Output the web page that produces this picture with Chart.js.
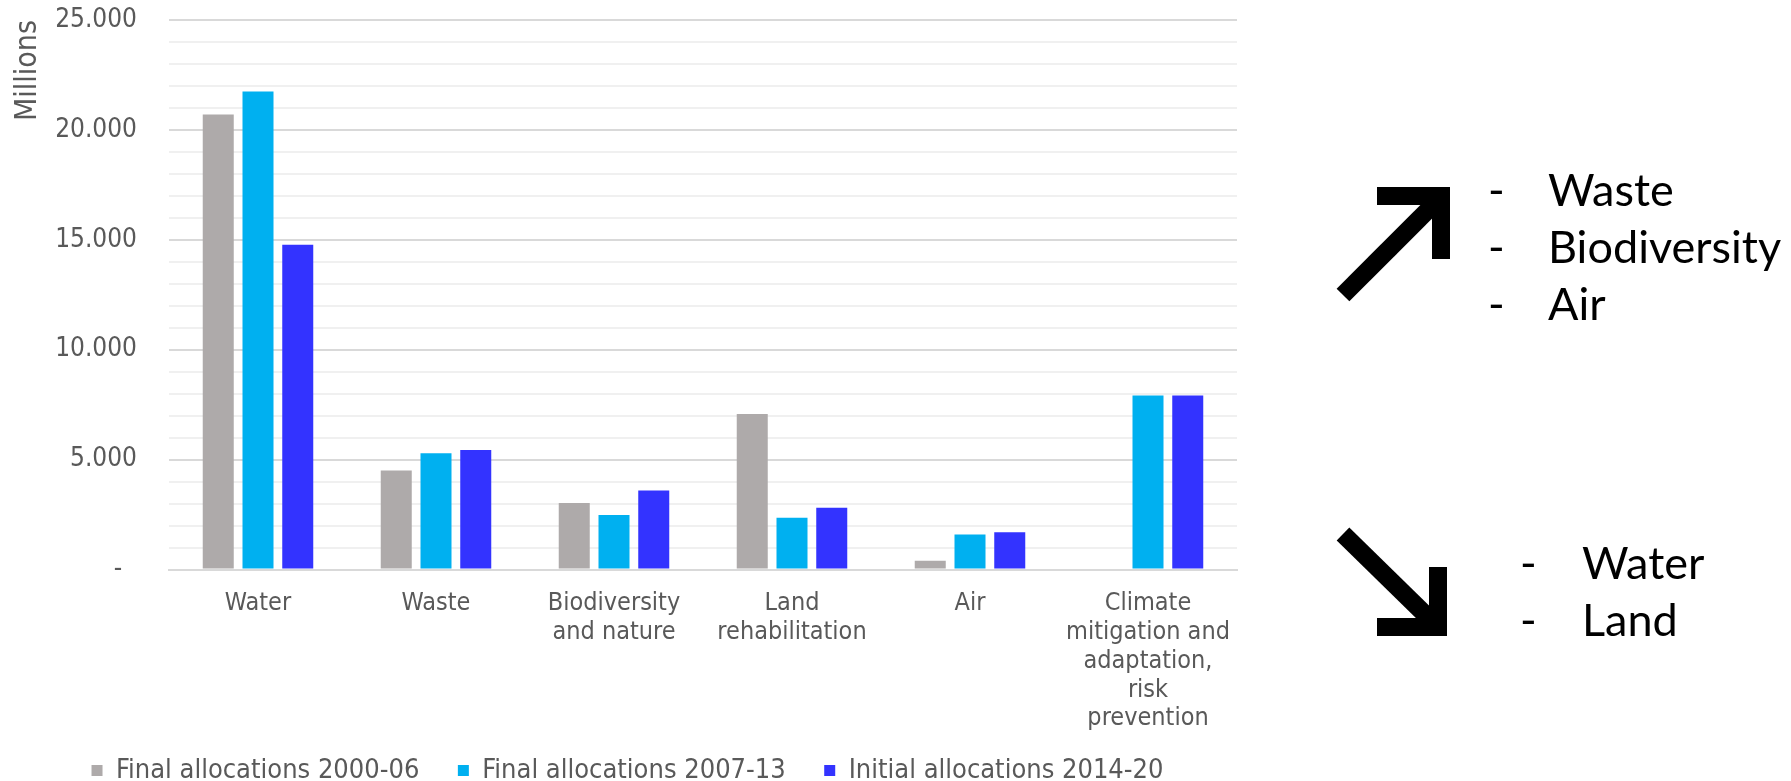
<!DOCTYPE html>
<html>
<head>
<meta charset="utf-8">
<script src="https://cdn.jsdelivr.net/npm/chart.js@4/dist/chart.umd.min.js"></script>
<style>
    html, body { margin: 0; padding: 0; background: #fff; overflow: hidden; }
    #page { position: relative; width: 1791px; height: 781px; overflow: hidden; }
    #chartBox { position: absolute; left: 0; top: 0; width: 1270px; height: 794px; }
    #notes { position: absolute; left: 0; top: 0; width: 1791px; height: 781px; pointer-events: none; }
    .trend { position: absolute; font-family: Lato, "Open Sans", sans-serif; font-size: 45px; line-height: 57px; color: #000; }
    .trend div { position: relative; }
    .trend span.dash { position: absolute; }
</style>
</head>
<body>
<div id="page">
    <div id="chartBox"><canvas id="myChart" width="1270" height="794"></canvas></div>

    <svg id="notes" width="1791" height="781">
        <!-- up arrow -->
        <line x1="1343" y1="295" x2="1440" y2="198" stroke="#000" stroke-width="18"/>
        <rect x="1377" y="187" width="73" height="18" fill="#000"/>
        <rect x="1432" y="187" width="18" height="72" fill="#000"/>
        <!-- down arrow -->
        <line x1="1343" y1="534" x2="1437" y2="626" stroke="#000" stroke-width="18"/>
        <rect x="1377" y="618" width="70" height="18" fill="#000"/>
        <rect x="1429" y="567" width="18" height="69" fill="#000"/>
    </svg>

    <div class="trend" id="upList" style="left:1548px; top:161px;">
        <div><span class="dash" style="left:-60px;">-</span>Waste</div>
        <div><span class="dash" style="left:-60px;">-</span>Biodiversity</div>
        <div><span class="dash" style="left:-60px;">-</span>Air</div>
    </div>
    <div class="trend" id="downList" style="left:1582px; top:534px;">
        <div><span class="dash" style="left:-62px;">-</span>Water</div>
        <div><span class="dash" style="left:-62px;">-</span>Land</div>
    </div>
</div>

<script>
(function () {
    "use strict";

    // categories (multi-line labels)
    const categories = [
        ['Water'],
        ['Waste'],
        ['Biodiversity', 'and nature'],
        ['Land', 'rehabilitation'],
        ['Air'],
        ['Climate', 'mitigation and', 'adaptation,', 'risk', 'prevention']
    ];

    // allocations, EUR millions
    const final2000_06 = [20700, 4500, 3030, 7080, 400, null];
    const final2007_13 = [21750, 5290, 2480, 2350, 1590, 7920];
    const initial2014_20 = [14780, 5440, 3590, 2810, 1700, 7920];

    const yMax = 25000;
    const yStep = 1000;
    const yLabelEvery = 5000;

    const textColor = '#595959';
    const axisFont = { family: 'DejaVu Sans Condensed', size: 25, lineHeight: 1.15 };

    function fmtThousands(v) {
        return String(v).replace(/\B(?=(\d{3})+(?!\d))/g, '.');
    }

    // nudge the legend row a bit to the right
    const legendShift = {
        id: 'legendShift',
        afterLayout: function (c) {
            c.legend.left += 9;
            c.legend.right += 9;
        }
    };

    const ctx = document.getElementById('myChart').getContext('2d');

    const chart = new Chart(ctx, {
        type: 'bar',
        data: {
            labels: categories,
            datasets: [
                {
                    label: 'Final allocations 2000-06',
                    backgroundColor: '#AEAAAA',
                    data: final2000_06
                },
                {
                    label: 'Final allocations 2007-13',
                    backgroundColor: '#00B0F0',
                    data: final2007_13
                },
                {
                    label: 'Initial allocations 2014-20',
                    backgroundColor: '#3333FF',
                    data: initial2014_20
                }
            ]
        },
        plugins: [legendShift],
        options: {
            responsive: false,
            animation: false,
            categoryPercentage: 0.67,
            barPercentage: 0.78,
            layout: {
                padding: { top: 20, right: 33, left: 0, bottom: 0 }
            },
            scales: {
                x: {
                    afterFit: function (scale) { scale.height = 166; },
                    grid: { display: false, drawTicks: false },
                    border: { display: true, color: '#D9D9D9', width: 2 },
                    ticks: {
                        color: textColor,
                        font: axisFont,
                        padding: 20,
                        maxRotation: 0,
                        autoSkip: false
                    }
                },
                y: {
                    min: 0,
                    max: yMax,
                    afterFit: function (scale) {
                        scale.width = 169;
                        // top label may stick out above the plot
                        scale.paddingTop = 0;
                        scale.paddingBottom = 0;
                    },
                    border: { display: false },
                    grid: {
                        drawTicks: false,
                        color: function (c) {
                            return c.tick && c.tick.value % yLabelEvery === 0 ? '#D9D9D9' : '#F0F0F0';
                        },
                        lineWidth: 2
                    },
                    ticks: {
                        stepSize: yStep,
                        autoSkip: false,
                        padding: 32,
                        color: textColor,
                        font: { family: 'DejaVu Sans Condensed', size: 26 },
                        callback: function (value) {
                            if (value % yLabelEvery !== 0) return '';
                            return value === 0 ? '-  ' : fmtThousands(value);
                        }
                    },
                    title: {
                        display: true,
                        align: 'end',
                        text: 'Millions',
                        color: textColor,
                        font: { family: 'DejaVu Sans Condensed', size: 30 },
                        padding: { top: 10, bottom: 0 }
                    }
                }
            },
            plugins: {
                legend: {
                    position: 'bottom',
                    labels: {
                        color: textColor,
                        font: { family: 'DejaVu Sans Condensed', size: 27 },
                        boxWidth: 11,
                        boxHeight: 11,
                        padding: 21.5,
                        generateLabels: function (c) {
                            // a little extra room between entries
                            const items = Chart.defaults.plugins.legend.labels.generateLabels(c);
                            items.forEach(function (item, i) {
                                if (i < items.length - 1) item.text = item.text + '\u2002\u2009';
                            });
                            return items;
                        }
                    }
                },
                tooltip: { enabled: false }
            }
        }
    });
})();
</script>
</body>
</html>
